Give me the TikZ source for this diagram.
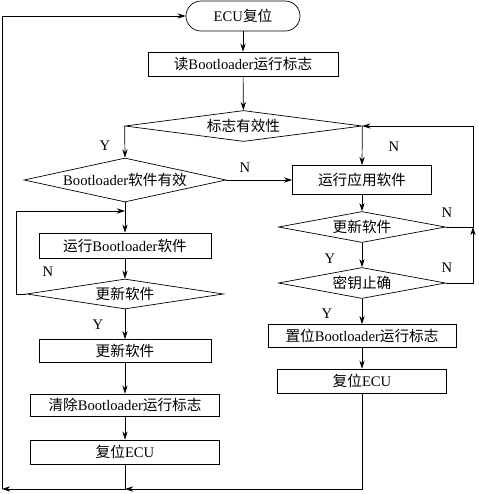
\documentclass[tikz,border=0pt]{standalone}
\usepackage{fontspec}
\setmainfont{Liberation Serif}
\newfontfamily\cjk{Noto Sans CJK SC}
\usetikzlibrary{shapes.geometric,arrows.meta}

\begin{document}
\begin{tikzpicture}[
   x = 0.03cm, y = -0.03cm,
   line width = 0.6pt,
   every node/.style = {text=black, font=\fontsize{12.5}{15}\selectfont},
   box/.style = {draw, rectangle, inner sep=0pt},
   cond/.style = {draw, diamond, aspect=5, inner sep=0pt},
   term/.style = {draw, rectangle, rounded corners=0.45cm, inner sep=0pt},
   flow/.style = {-{Stealth[length=7pt, width=4.5pt]}},
]
   \useasboundingbox (0,0) rectangle (479,494);
   % start
   \node [term, minimum width=3.42cm, minimum height=0.9cm] (ecu) at (243,16) {ECU{\cjk 复位}};
   \node [box, minimum width=5.7cm, minimum height=0.72cm] (readflag) at (243,64)
      {{\cjk 读}Bootloader{\cjk 运行标志}};
   \node [cond, minimum width=7.11cm, minimum height=0.93cm] (flagok) at (243.5,126) {{\cjk 标志有效性}};
   % left branch
   \node [cond, minimum width=6.06cm, minimum height=1.32cm] (blok) at (125,180)
      {Bootloader{\cjk 软件有效}};
   \node [box, minimum width=5.16cm, minimum height=0.75cm] (runbl) at (125,245.5)
      {{\cjk 运行}Bootloader{\cjk 软件}};
   \node [cond, minimum width=5.91cm, minimum height=0.9cm] (updL) at (125,294) {{\cjk 更新软件}};
   \node [box, minimum width=5.16cm, minimum height=0.69cm] (updbox) at (125,351) {{\cjk 更新软件}};
   \node [box, minimum width=5.67cm, minimum height=0.66cm] (clrflag) at (125,405)
      {{\cjk 清除}Bootloader{\cjk 运行标志}};
   \node [box, minimum width=5.67cm, minimum height=0.72cm] (resetL) at (125,452) {{\cjk 复位}ECU};
   % right branch
   \node [box, minimum width=4.17cm, minimum height=0.87cm] (runapp) at (362,180) {{\cjk 运行应用软件}};
   \node [cond, minimum width=5.01cm, minimum height=0.93cm] (updR) at (362,227) {{\cjk 更新软件}};
   \node [cond, minimum width=5.01cm, minimum height=0.93cm] (keyok) at (362,283) {{\cjk 密钥止确}};
   \node [box, minimum width=5.64cm, minimum height=0.69cm] (setflag) at (362,336)
      {{\cjk 置位}Bootloader{\cjk 运行标志}};
   \node [box, minimum width=5.07cm, minimum height=0.72cm] (resetR) at (362,381) {{\cjk 复位}ECU};
   % branch labels
   \node (y1) at (105,146) {Y};
   \node (n1) at (394,147) {N};
   \node (n2) at (245,168) {N};
   \node (n3) at (48,272) {N};
   \node (y2) at (98,325) {Y};
   \node (n4) at (447,213) {N};
   \node (y3) at (330,259) {Y};
   \node (n5) at (447,268) {N};
   \node (y4) at (327,314) {Y};
   % corners of the loops
   \coordinate (rmid) at (473,227);
   \coordinate (rtop) at (473,126);
   \coordinate (lmid) at (16,211);
   \coordinate (bjoin) at (125,489);
   \coordinate (bcorner) at (2,489);
   \coordinate (tcorner) at (2,16);
   % main flow
   \draw [flow] (ecu) -- (readflag);
   \draw [flow] (readflag) -- (flagok);
   \draw [flow] (flagok.west) -- (blok.north);
   \draw [flow] (flagok.east) -- (runapp.north);
   \draw [flow] (blok.east) -- (runapp.west);
   \draw [flow] (blok) -- (runbl);
   \draw [flow] (runbl) -- (updL);
   \draw [flow] (updL) -- (updbox);
   \draw [flow] (updbox) -- (clrflag);
   \draw [flow] (clrflag) -- (resetL);
   \draw [flow] (runapp) -- (updR);
   \draw [flow] (updR) -- (keyok);
   \draw [flow] (keyok) -- (setflag);
   \draw [flow] (setflag) -- (resetR);
   % loops back
   \draw [flow] (updL.west) -| (lmid) -- (lmid -| runbl.north);
   \draw [flow] (keyok.east) -| (rmid);
   \draw [flow] (updR.east) -- (rmid) -- (rtop) -- (flagok.east);
   \draw [flow] (resetR.south) |- (bjoin);
   \draw [flow] (resetL.south) -- (bjoin) -- (bcorner);
   \draw [flow] (bcorner) -- (tcorner) -- (ecu.west);
\end{tikzpicture}
\end{document}
